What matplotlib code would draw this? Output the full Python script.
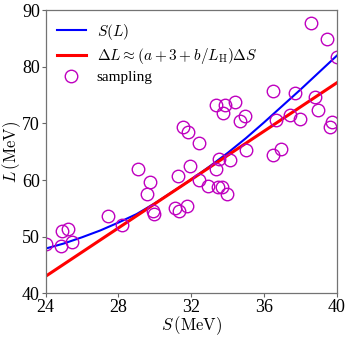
import matplotlib
matplotlib.use('Agg')
import matplotlib.pyplot as plt

plt.rcParams['font.family'] = 'serif'
plt.rcParams['font.serif'] = ['Liberation Serif', 'DejaVu Serif']
plt.rcParams['mathtext.fontset'] = 'cm'

# S(L) curve
s_curve = [24, 25, 26, 27, 28, 29, 30, 31, 32, 33, 34, 35, 36, 37, 38, 39, 40]
l_curve = [47.9, 48.8, 49.9, 51.1, 52.5, 54.0, 55.9, 58.0, 60.1, 62.4,
           64.8, 67.4, 70.2, 73.1, 76.0, 79.0, 82.0]

# linear approximation (straight line)
s_lin = [24, 40]
l_lin = [43.0, 77.2]

# sampled points
s_samp = [24.0, 24.85, 24.9, 25.25, 25.45, 27.45, 28.2, 29.1, 29.55, 29.75,
          29.9, 29.95, 31.1, 31.35, 31.75, 31.25, 31.95, 31.55, 31.8, 32.4,
          32.4, 32.9, 33.35, 33.5, 34.1, 33.35, 33.85, 34.4, 33.75, 34.95,
          34.7, 35.0, 33.45, 33.7, 33.95, 36.5, 36.9, 36.5, 36.65, 37.4,
          37.7, 37.95, 38.8, 38.95, 38.55, 39.45, 40.0, 39.7, 39.6]
l_samp = [48.7, 48.3, 51.0, 51.35, 49.0, 53.7, 52.0, 61.9, 57.55, 59.6,
          54.55, 54.0, 55.0, 54.5, 55.45, 60.7, 62.5, 69.3, 68.55, 66.5,
          60.1, 58.9, 62.0, 63.7, 63.6, 73.2, 73.2, 73.8, 71.8, 71.3,
          70.4, 65.3, 58.8, 58.8, 57.5, 64.5, 65.5, 75.7, 70.65, 71.5,
          75.4, 70.8, 74.7, 72.4, 87.7, 84.9, 81.7, 70.3, 69.3]

fig = plt.figure(figsize=(3.5, 3.38), dpi=100)
ax = fig.add_axes([0.13, 0.132, 0.833, 0.838])

ax.plot(s_curve, l_curve, color='blue', lw=1.5, label=r'$S(L)$')
ax.plot(s_lin, l_lin, color='red', lw=2.2,
        label=r'$\Delta L \approx (a+3+b/L_{\rm H})\Delta S$')
ax.plot(s_samp, l_samp, 'o', ms=9, mfc='none', mec='m', mew=1.0,
        label='sampling')

ax.set_xlim(24, 40)
ax.set_ylim(40, 90)
ax.set_xticks([24, 28, 32, 36, 40])
ax.set_yticks([40, 50, 60, 70, 80, 90])
ax.tick_params(labelsize=13, length=3, width=0.8, color='0.4', pad=1)
for sp in ax.spines.values():
    sp.set_color('0.45')
    sp.set_linewidth(0.9)

ax.set_xlabel(r'$S\,(\mathrm{MeV})$', fontsize=12, labelpad=-1)
ax.set_ylabel(r'$L\,(\mathrm{MeV})$', fontsize=12, labelpad=-1)

ax.legend(loc='upper left', frameon=False, fontsize=11, handlelength=1.9,
          borderaxespad=0.35, labelspacing=0.3, handletextpad=0.7)

fig.savefig('out.png', dpi=100)
